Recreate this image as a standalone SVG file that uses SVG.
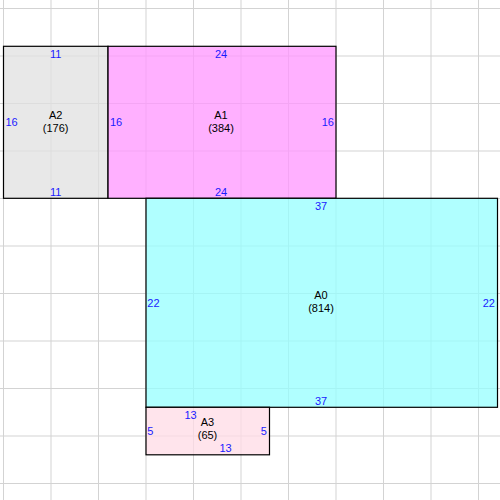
<svg xmlns="http://www.w3.org/2000/svg" width="500" height="500" viewBox="0 0 500 500">
<style>
.grid line{stroke:#d3d3d3;stroke-width:1}
.box{stroke:#000;stroke-width:1.2;fill-opacity:0.75}
text{font-family:"Liberation Sans",Arial,sans-serif;font-size:11px}
.dim{fill:#1a1aff}
.nm{fill:#000;text-anchor:middle}
.c{text-anchor:middle}
.e{text-anchor:end}
</style>
<rect width="500" height="500" fill="#fff"/>
<g class="grid">
<line x1="3.5" y1="0" x2="3.5" y2="500"/>
<line x1="51" y1="0" x2="51" y2="500"/>
<line x1="98.5" y1="0" x2="98.5" y2="500"/>
<line x1="146" y1="0" x2="146" y2="500"/>
<line x1="193.5" y1="0" x2="193.5" y2="500"/>
<line x1="241" y1="0" x2="241" y2="500"/>
<line x1="288.5" y1="0" x2="288.5" y2="500"/>
<line x1="336" y1="0" x2="336" y2="500"/>
<line x1="383.5" y1="0" x2="383.5" y2="500"/>
<line x1="431" y1="0" x2="431" y2="500"/>
<line x1="478.5" y1="0" x2="478.5" y2="500"/>
<line x1="0" y1="8.5" x2="500" y2="8.5"/>
<line x1="0" y1="56" x2="500" y2="56"/>
<line x1="0" y1="103.5" x2="500" y2="103.5"/>
<line x1="0" y1="151" x2="500" y2="151"/>
<line x1="0" y1="198.5" x2="500" y2="198.5"/>
<line x1="0" y1="246" x2="500" y2="246"/>
<line x1="0" y1="293.5" x2="500" y2="293.5"/>
<line x1="0" y1="341" x2="500" y2="341"/>
<line x1="0" y1="388.5" x2="500" y2="388.5"/>
<line x1="0" y1="436" x2="500" y2="436"/>
<line x1="0" y1="483.5" x2="500" y2="483.5"/>
</g>
<g id="A2">
<rect class="box" x="3.5" y="46.3" width="104.5" height="152" fill="#e0e0e0"/>
<text class="dim c" x="55.7" y="57.5">11</text>
<text class="dim c" x="55.7" y="196">11</text>
<text class="dim" x="5.5" y="126">16</text>
<text class="nm" x="55.7" y="119">A2</text>
<text class="nm" x="55.7" y="132">(176)</text>
</g>
<g id="A1">
<rect class="box" x="108" y="46.3" width="228" height="152" fill="#ff96ff"/>
<text class="dim c" x="221" y="57.5">24</text>
<text class="dim c" x="221" y="196">24</text>
<text class="dim" x="110" y="126">16</text>
<text class="dim e" x="334" y="126">16</text>
<text class="nm" x="221" y="119">A1</text>
<text class="nm" x="221" y="132">(384)</text>
</g>
<g id="A0">
<rect class="box" x="146" y="198.3" width="351.5" height="209" fill="#96ffff"/>
<text class="dim c" x="321" y="209.5">37</text>
<text class="dim c" x="321" y="404.5">37</text>
<text class="dim" x="147.3" y="307">22</text>
<text class="dim e" x="495" y="307">22</text>
<text class="nm" x="321" y="299">A0</text>
<text class="nm" x="321" y="312">(814)</text>
</g>
<g id="A3">
<rect class="box" x="146" y="407.3" width="123.5" height="47.5" fill="#ffdbe6"/>
<text class="dim c" x="190.5" y="418.5">13</text>
<text class="dim c" x="225.5" y="451.7">13</text>
<text class="dim" x="147.3" y="434.5">5</text>
<text class="dim e" x="266.8" y="434.5">5</text>
<text class="nm" x="207.5" y="426">A3</text>
<text class="nm" x="207.5" y="439">(65)</text>
</g>
</svg>
